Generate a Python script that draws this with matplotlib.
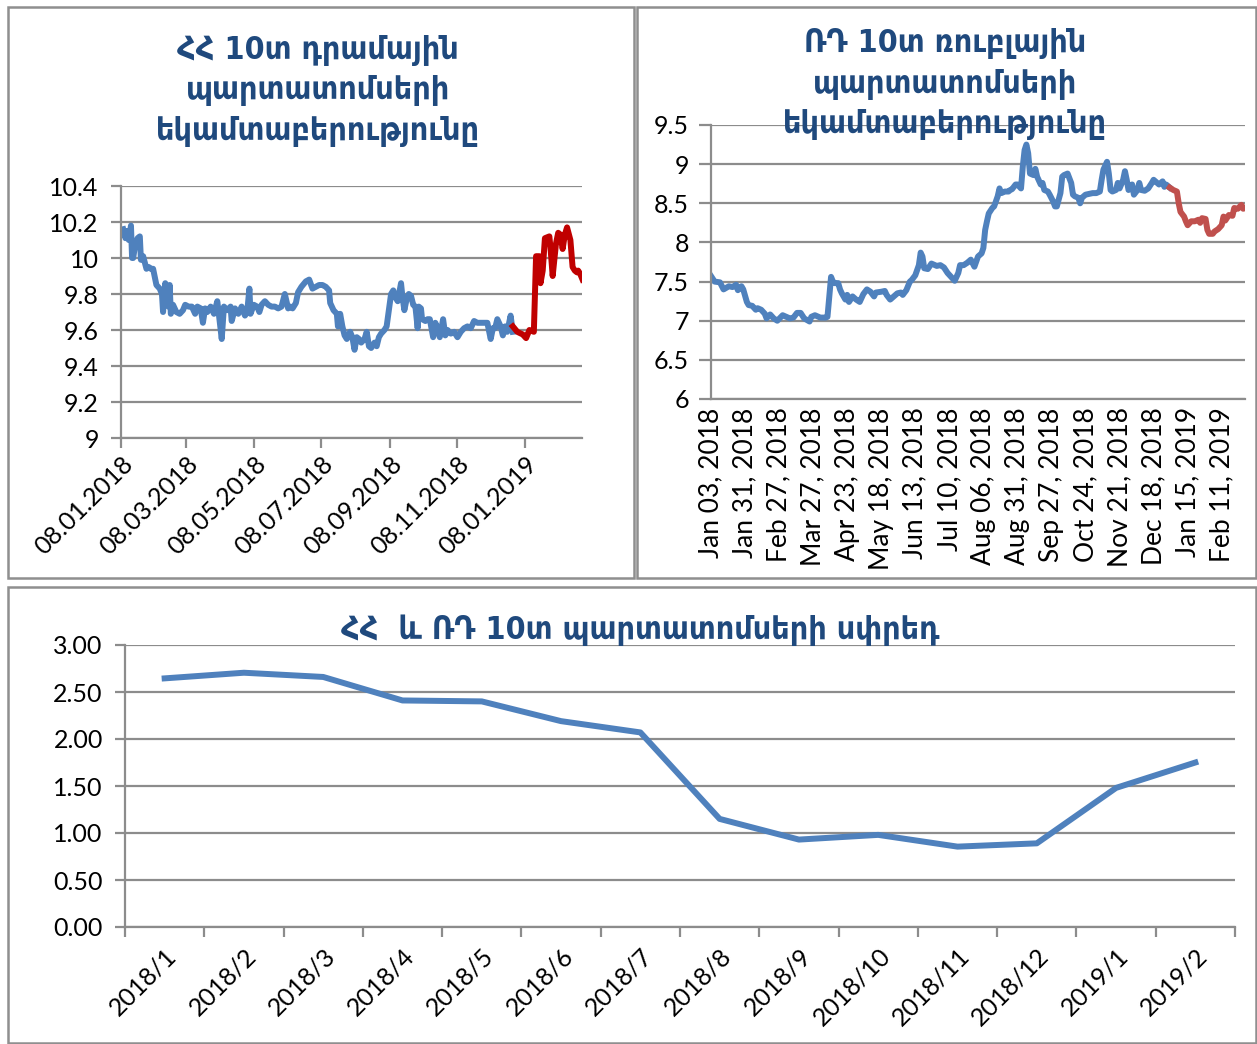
import matplotlib
matplotlib.use("Agg")
import matplotlib.pyplot as plt
import matplotlib.dates as mdates
from matplotlib.patches import Rectangle
import pandas as pd

# --- Armenian 10y AMD bond yield (days from 08.01.2018) ---
am_day = [2, 4, 5, 7, 9, 10, 11, 13, 15, 17, 18, 20, 23, 25, 27, 29, 31, 32, 35, 37,
          38, 40, 41, 43, 44, 45, 47, 50, 53, 56, 58, 61, 64, 67, 69, 72, 74, 76, 78, 81,
          84, 87, 88, 91, 93, 96, 99, 100, 103, 106, 109, 112, 114, 116, 117, 120, 123, 125, 127, 130,
          133, 136, 139, 142, 145, 148, 151, 153, 155, 158, 160, 163, 167, 170, 173, 176, 179, 182, 185, 188,
          189, 192, 195, 196, 198, 200, 202, 204, 207, 209, 211, 213, 215, 217, 220, 222, 224, 226, 229, 231,
          233, 235, 238, 240, 242, 244, 246, 248, 250, 253, 254, 256, 258, 260, 262, 264, 266, 268, 269, 271,
          272, 275, 277, 279, 282, 284, 286, 288, 291, 293, 295, 298, 301, 304, 307, 310, 313, 316, 319, 322,
          325, 328, 331, 334, 336, 338, 340, 343, 345, 347, 349, 352, 354]
am_val = [10.16, 10.11, 10.15, 10.10, 10.18, 10.00, 10.00, 10.08, 10.11, 10.12, 9.99, 10.01, 9.94, 9.95, 9.94, 9.94, 9.88, 9.85, 9.83, 9.80,
          9.70, 9.86, 9.79, 9.73, 9.85, 9.69, 9.74, 9.70, 9.69, 9.71, 9.74, 9.73, 9.73, 9.69, 9.73, 9.72, 9.64, 9.72, 9.70, 9.73,
          9.69, 9.76, 9.71, 9.55, 9.73, 9.71, 9.73, 9.65, 9.72, 9.69, 9.73, 9.68, 9.70, 9.83, 9.69, 9.74, 9.73, 9.70, 9.74, 9.76,
          9.74, 9.73, 9.73, 9.72, 9.73, 9.80, 9.72, 9.73, 9.72, 9.75, 9.81, 9.84, 9.87, 9.88, 9.83, 9.84, 9.85, 9.85, 9.84, 9.82,
          9.75, 9.71, 9.69, 9.62, 9.69, 9.62, 9.57, 9.55, 9.59, 9.56, 9.49, 9.56, 9.55, 9.53, 9.55, 9.59, 9.51, 9.50, 9.53, 9.51,
          9.56, 9.58, 9.60, 9.62, 9.71, 9.80, 9.82, 9.78, 9.76, 9.86, 9.80, 9.71, 9.77, 9.80, 9.79, 9.74, 9.73, 9.61, 9.73, 9.72,
          9.66, 9.65, 9.66, 9.66, 9.56, 9.64, 9.61, 9.56, 9.66, 9.57, 9.60, 9.58, 9.59, 9.56, 9.59, 9.61, 9.62, 9.61, 9.65, 9.64,
          9.64, 9.64, 9.64, 9.55, 9.61, 9.61, 9.66, 9.62, 9.57, 9.62, 9.59, 9.68, 9.59]
am_red_day = [354, 358, 363, 366, 369, 373, 375, 378, 379, 381, 383, 387, 388, 390, 393, 395, 397, 399, 401, 403,
              406, 408, 410, 412, 413, 415, 417]
am_red_val = [9.62, 9.59, 9.575, 9.555, 9.60, 9.59, 10.01, 10.01, 9.86, 9.93, 10.11, 10.12, 10.06, 9.90, 10.08, 10.14, 10.13, 10.05, 10.13, 10.17,
              10.10, 9.95, 9.93, 9.92, 9.93, 9.91, 9.88]
am_ticks = ["2018-01-08", "2018-03-08", "2018-05-08", "2018-07-08", "2018-09-08", "2018-11-08", "2019-01-08"]
am_yticks = [9, 9.2, 9.4, 9.6, 9.8, 10, 10.2, 10.4]
am_ylabels = ["9", "9.2", "9.4", "9.6", "9.8", "10", "10.2", "10.4"]

# --- Russian 10y RUB bond yield (trading-day index) ---
ru_idx = [0, 2, 5, 7, 10, 12, 14, 15, 17, 18, 20, 21, 23, 25, 26, 28, 30, 31, 33, 35,
          37, 40, 42, 44, 46, 48, 50, 52, 55, 56, 58, 61, 64, 65, 67, 68, 69, 71, 72, 73,
          75, 76, 77, 79, 81, 83, 85, 87, 89, 91, 92, 95, 97, 98, 100, 102, 104, 106, 107, 109,
          111, 112, 114, 116, 117, 118, 119, 121, 123, 125, 126, 128, 130, 132, 134, 136, 138, 139, 141, 143,
          145, 147, 149, 151, 152, 153, 154, 155, 157, 158, 160, 161, 162, 164, 166, 167, 168, 170, 171, 173,
          174, 175, 176, 177, 178, 180, 181, 182, 184, 185, 186, 188, 189, 191, 192, 193, 195, 196, 197, 199,
          201, 202, 203, 205, 206, 207, 209, 211, 213, 215, 217, 218, 219, 221, 222, 223, 224, 226, 227, 228,
          230, 231, 232, 233, 235, 236, 238, 239, 240, 242, 244, 246, 247, 249, 250, 252, 253, 254, 256]
ru_val = [7.57, 7.50, 7.49, 7.40, 7.44, 7.43, 7.46, 7.39, 7.44, 7.40, 7.24, 7.20, 7.19, 7.14, 7.16, 7.14, 7.09, 7.03, 7.08, 7.03,
          7.00, 7.07, 7.05, 7.03, 7.04, 7.10, 7.10, 7.03, 6.99, 7.05, 7.07, 7.04, 7.04, 7.05, 7.56, 7.50, 7.48, 7.48, 7.40, 7.35,
          7.27, 7.33, 7.24, 7.31, 7.27, 7.24, 7.34, 7.40, 7.37, 7.31, 7.36, 7.37, 7.38, 7.33, 7.27, 7.31, 7.35, 7.36, 7.33, 7.39,
          7.50, 7.52, 7.58, 7.71, 7.87, 7.82, 7.67, 7.66, 7.73, 7.71, 7.70, 7.71, 7.68, 7.61, 7.56, 7.51, 7.61, 7.71, 7.71, 7.74,
          7.78, 7.69, 7.82, 7.86, 7.93, 8.16, 8.27, 8.37, 8.44, 8.46, 8.59, 8.69, 8.63, 8.65, 8.65, 8.67, 8.68, 8.74, 8.74, 8.69,
          8.97, 9.18, 9.25, 9.14, 8.88, 8.86, 8.94, 8.84, 8.74, 8.76, 8.67, 8.65, 8.61, 8.52, 8.46, 8.46, 8.63, 8.84, 8.86, 8.88,
          8.76, 8.61, 8.59, 8.57, 8.50, 8.57, 8.61, 8.62, 8.63, 8.63, 8.65, 8.80, 8.93, 9.03, 8.88, 8.67, 8.65, 8.67, 8.76, 8.69,
          8.80, 8.91, 8.80, 8.67, 8.74, 8.61, 8.67, 8.76, 8.67, 8.66, 8.69, 8.76, 8.80, 8.76, 8.74, 8.78, 8.71, 8.74, 8.70]
ru_red_idx = [256, 258, 260, 261, 262, 264, 265, 266, 268, 270, 272, 273, 274, 276, 277, 278, 280, 281, 283, 285,
              286, 287, 289, 291, 292, 294, 296, 297, 298]
ru_red_val = [8.70, 8.67, 8.65, 8.50, 8.39, 8.33, 8.27, 8.22, 8.27, 8.27, 8.29, 8.25, 8.31, 8.30, 8.16, 8.11, 8.11, 8.14, 8.17, 8.22,
              8.33, 8.28, 8.35, 8.34, 8.44, 8.43, 8.48, 8.43, 8.44]
ru_labels = ["Jan 03, 2018", "Jan 31, 2018", "Feb 27, 2018", "Mar 27, 2018", "Apr 23, 2018", "May 18, 2018",
             "Jun 13, 2018", "Jul 10, 2018", "Aug 06, 2018", "Aug 31, 2018", "Sep 27, 2018", "Oct 24, 2018",
             "Nov 21, 2018", "Dec 18, 2018", "Jan 15, 2019", "Feb 11, 2019"]
ru_label_step = 19
ru_yticks = [6, 6.5, 7, 7.5, 8, 8.5, 9, 9.5]
ru_ylabels = ["6", "6.5", "7", "7.5", "8", "8.5", "9", "9.5"]

# --- spread ---
months = ["2018/1", "2018/2", "2018/3", "2018/4", "2018/5", "2018/6", "2018/7",
          "2018/8", "2018/9", "2018/10", "2018/11", "2018/12", "2019/1", "2019/2"]
spread = [2.645, 2.705, 2.66, 2.41, 2.40, 2.19, 2.07, 1.15, 0.93, 0.98, 0.855, 0.89, 1.48, 1.75]

title_am = "ՀՀ 10տ դրամային\nպարտատոմսերի\nեկամտաբերությունը"
title_ru = "ՌԴ 10տ ռուբլային\nպարտատոմսերի\nեկամտաբերությունը"
title_sp = "ՀՀ  և ՌԴ 10տ պարտատոմսերի սփրեդ"

BLUE = "#4F81BD"
TITLE_C = "#1F497D"
GRID_C = "#8C8C8C"
LW = 4.3
W, H = 1257, 1044

plt.rcParams['font.family'] = ['Lato', 'DejaVu Sans']

fig = plt.figure(figsize=(W / 100, H / 100), dpi=100)


def frac(x0, y0, x1, y1):
    return [x0 / W, 1 - y1 / H, (x1 - x0) / W, (y1 - y0) / H]


# panel frames
for (x0, y0, x1, y1) in [(8, 7, 634, 578), (637, 7, 1256, 578), (8, 587, 1256, 1043)]:
    fig.patches.append(Rectangle((x0 / W, 1 - y1 / H), (x1 - x0) / W, (y1 - y0) / H,
                                 transform=fig.transFigure, fill=False, ec="#8F8F8F", lw=1.8))


def style(ax):
    for s in ["top", "right"]:
        ax.spines[s].set_visible(False)
    for s in ["left", "bottom"]:
        ax.spines[s].set_color(GRID_C)
        ax.spines[s].set_linewidth(1.6)
    ax.yaxis.grid(True, color=GRID_C, lw=1.6)
    ax.set_axisbelow(True)
    ax.tick_params(colors=GRID_C, width=1.6, length=7, labelcolor="black")
    ax.tick_params(axis="y", pad=9)


tfont = dict(family="DejaVu Sans", fontweight="bold", color=TITLE_C, fontsize=23,
             fontstretch="condensed", linespacing=1.4)

# ---- top left ----
ax1 = fig.add_axes(frac(121, 186, 582, 438))
style(ax1)
d0 = pd.Timestamp("2018-01-08")
ax1.plot(d0 + pd.to_timedelta(am_day, unit="D"), am_val, color=BLUE, lw=LW, solid_joinstyle="round")
ax1.plot(d0 + pd.to_timedelta(am_red_day, unit="D"), am_red_val, color="#C00000", lw=LW, solid_joinstyle="round")
ax1.set_xlim(d0, d0 + pd.Timedelta(days=416.5))
ax1.set_ylim(9, 10.4)
ax1.set_yticks(am_yticks)
ax1.set_yticklabels(am_ylabels, fontsize=18)
ax1.set_xticks(pd.to_datetime(am_ticks))
ax1.xaxis.set_major_formatter(mdates.DateFormatter("%d.%m.%Y"))
plt.setp(ax1.get_xticklabels(), rotation=45, ha="right", rotation_mode="anchor", fontsize=18)
fig.text(318 / W, 1 - 91 / H, title_am, ha="center", va="center", **tfont)

# ---- top right ----
ax2 = fig.add_axes(frac(711, 125, 1245, 399))
style(ax2)
ax2.plot(ru_idx, ru_val, color=BLUE, lw=LW, solid_joinstyle="round")
ax2.plot(ru_red_idx, ru_red_val, color="#C0504D", lw=LW, solid_joinstyle="round")
ax2.set_xlim(0, ru_red_idx[-1])
ax2.set_ylim(6, 9.5)
ax2.set_yticks(ru_yticks)
ax2.set_yticklabels(ru_ylabels, fontsize=18)
ax2.set_xticks([i * ru_label_step for i in range(len(ru_labels))])
ax2.set_xticklabels(ru_labels, rotation=90, fontsize=19)
ax2.tick_params(axis="x", length=0, pad=6)
ax2.tick_params(axis="y", length=9, pad=7)
fig.text(945 / W, 1 - 84 / H, title_ru, ha="center", va="center", zorder=5, **tfont)

# ---- bottom ----
ax3 = fig.add_axes(frac(125, 645, 1235, 927))
style(ax3)
xs = list(range(len(months)))
ax3.plot(xs, spread, color=BLUE, lw=LW, solid_joinstyle="round")
ax3.set_xlim(-0.5, len(months) - 0.5)
ax3.set_ylim(0, 3)
ax3.set_yticks([0, 0.5, 1, 1.5, 2, 2.5, 3])
ax3.set_yticklabels(["%.2f" % v for v in [0, 0.5, 1, 1.5, 2, 2.5, 3]], fontsize=18)
ax3.set_xticks([x - 0.5 for x in range(len(months) + 1)])
ax3.set_xticklabels([])
ax3.set_xticks(xs, minor=True)
ax3.set_xticklabels(months, minor=True, rotation=45, ha="right", rotation_mode="anchor", fontsize=18)
ax3.tick_params(axis="x", which="minor", length=0, pad=12)
fig.text(640 / W, 1 - 630 / H, title_sp, ha="center", va="center", **tfont)

plt.savefig("out.png", dpi=100)
